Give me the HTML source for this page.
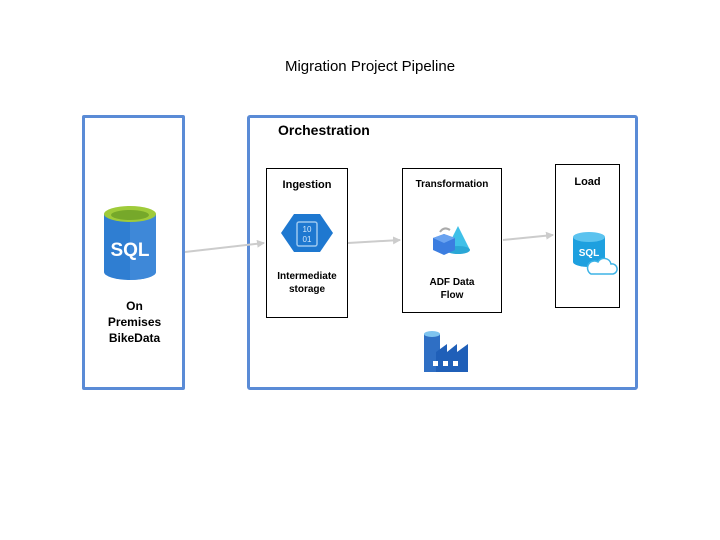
<!DOCTYPE html>
<html><head><style>
body{margin:0;width:720px;height:540px;background:#fff;position:relative;overflow:hidden;font-family:"Liberation Sans",sans-serif}
.b{position:absolute;box-sizing:border-box}
.t{position:absolute;font-weight:bold;font-size:11px;text-align:center;color:#000;line-height:14px}
</style></head><body>
<div class="t" style="left:0;width:740px;top:60px;font-weight:normal;font-size:15px">Migration Project Pipeline</div>
<div class="b" style="left:82px;top:115px;width:103px;height:275px;border:3px solid #5a8bd6;border-radius:2px"></div>
<div class="b" style="left:247px;top:115px;width:391px;height:275px;border:3px solid #5a8bd6;border-radius:3px"></div>
<div class="t" style="left:278px;top:123px;font-size:14px;text-align:left">Orchestration</div>
<div class="b" style="left:266px;top:168px;width:82px;height:150px;border:1px solid #000"></div>
<div class="b" style="left:402px;top:168px;width:100px;height:145px;border:1px solid #000"></div>
<div class="b" style="left:555px;top:164px;width:65px;height:144px;border:1px solid #000"></div>
<div class="t" style="left:266px;width:82px;top:178px">Ingestion</div>
<div class="t" style="left:402px;width:100px;top:178px;font-size:10px">Transformation</div>
<div class="t" style="left:555px;width:65px;top:175px">Load</div>
<div class="t" style="left:266px;width:82px;top:270px;font-size:10px;line-height:13px">Intermediate<br>storage</div>
<div class="t" style="left:402px;width:100px;top:276px;font-size:10px;line-height:13px">ADF Data<br>Flow</div>
<div class="t" style="left:83px;width:103px;top:298px;font-size:12px;line-height:16px">On<br>Premises<br>BikeData</div>
<svg width="720" height="540" style="position:absolute;left:0;top:0">
<defs><marker id="a" markerWidth="8" markerHeight="8" refX="7" refY="4" orient="auto" markerUnits="userSpaceOnUse"><path d="M0,0L8,4L0,8z" fill="#ccc"/></marker></defs>
<g stroke="#ccc" stroke-width="2" fill="none" marker-end="url(#a)">
<line x1="185" y1="252" x2="264" y2="243"/>
<line x1="348" y1="243" x2="400" y2="240"/>
<line x1="503" y1="240" x2="553" y2="235"/>
</g>
<path d="M104,214 V272 A26,8 0 0 0 156,272 V214 Z" fill="#2f7ed2"/>
<path d="M130,222 V280 A26,8 0 0 0 156,272 V214 Z" fill="#4a90dc" opacity=".6"/>
<ellipse cx="130" cy="214" rx="26" ry="8" fill="#9fcb3a"/>
<ellipse cx="130" cy="215" rx="19" ry="5" fill="#76a82a"/>
<text x="130" y="256" font-family="Liberation Sans" font-weight="bold" font-size="19" fill="#fff" text-anchor="middle">SQL</text>
<polygon points="294,214 320,214 333,233 320,252 294,252 281,233" fill="#1e78d0"/>
<rect x="297" y="222" width="20" height="24" rx="2" fill="none" stroke="#9cc8f0" stroke-width="1.5"/>
<text x="307" y="232" font-family="Liberation Sans" font-size="8" fill="#cfe6fb" text-anchor="middle">10</text>
<text x="307" y="242" font-family="Liberation Sans" font-size="8" fill="#cfe6fb" text-anchor="middle">01</text>
<polygon points="458,226 470,250 446,250" fill="#3fc0e8"/>
<ellipse cx="458" cy="250" rx="12" ry="4" fill="#2aa7d6"/>
<polygon points="433,238 444,234 455,238 455,250 444,255 433,250" fill="#3b7de0"/>
<polygon points="433,238 444,243 455,238 444,234" fill="#6aa3f0"/>
<path d="M440,232 q4,-6 10,-2" stroke="#aaa" stroke-width="2" fill="none"/>
<path d="M573,237 V262 A16,5 0 0 0 605,262 V237 Z" fill="#1ea0df"/>
<ellipse cx="589" cy="237" rx="16" ry="5" fill="#5cc3ef"/>
<text x="589" y="256" font-family="Liberation Sans" font-weight="bold" font-size="10" fill="#fff" text-anchor="middle">SQL</text>
<path d="M591,274 h22 a5,5 0 0 0 -2,-10 a7,7 0 0 0 -13,-2 a5,5 0 0 0 -7,12z" fill="#fff" stroke="#3db3e6" stroke-width="1.5"/>
<rect x="424" y="334" width="16" height="38" fill="#2f6fc4"/>
<ellipse cx="432" cy="334" rx="8" ry="3" fill="#7fc4ef"/>
<polygon points="436,372 436,352 447,344 447,352 457,344 457,352 468,344 468,372" fill="#1f5fb8"/>
<rect x="433" y="361" width="5" height="5" fill="#fff"/><rect x="443" y="361" width="5" height="5" fill="#fff"/><rect x="453" y="361" width="5" height="5" fill="#fff"/>
</svg>
</body></html>
